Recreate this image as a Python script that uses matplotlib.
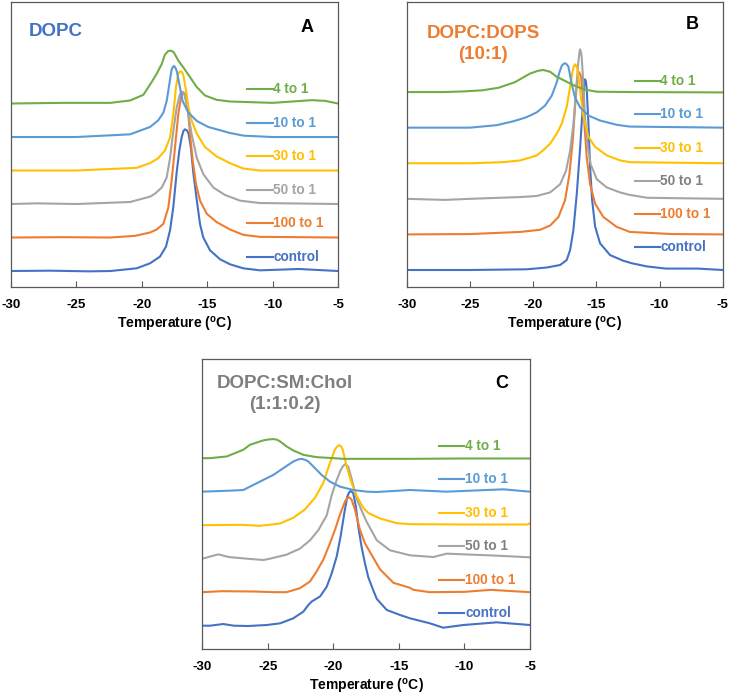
import numpy as np
import matplotlib
matplotlib.use("Agg")
import matplotlib.pyplot as plt

plt.rcParams['font.family'] = ['Liberation Sans', 'DejaVu Sans']
plt.rcParams['font.weight'] = 'bold'
plt.rcParams['mathtext.fontset'] = 'custom'
plt.rcParams['mathtext.rm'] = 'Liberation Sans:bold'
plt.rcParams['mathtext.bf'] = 'Liberation Sans:bold'

# series order: bottom to top
labels = ["control", "100 to 1", "50 to 1", "30 to 1", "10 to 1", "4 to 1"]
colors = ["#4472C4", "#ED7D31", "#A5A5A5", "#FFC000", "#5B9BD5", "#70AD47"]
xticks = [-30, -25, -20, -15, -10, -5]

# (temperature, height above own baseline)
# panel A: DOPC
a_control = [(-30, 0), (-27, 0.01), (-24, -0.01), (-22.4, 0), (-20.4, 0.08), (-19.37, 0.23), (-18.61, 0.43),
             (-18.15, 0.73), (-17.84, 1.22), (-17.59, 1.92), (-17.34, 2.93), (-17.13, 3.6), (-16.95, 4.0),
             (-16.82, 4.18), (-16.7, 4.23), (-16.56, 4.2), (-16.44, 4.12), (-16.26, 3.71), (-16.06, 2.92),
             (-15.8, 2.12), (-15.55, 1.4), (-15.3, 1.0), (-14.79, 0.62), (-14.02, 0.35), (-13.26, 0.2),
             (-12.24, 0.08), (-10.96, 0.02), (-8, 0.06), (-5, 0)]
a_100 = [(-30, 0), (-26, 0.01), (-22.4, 0), (-20.5, 0.05), (-19.37, 0.15), (-18.86, 0.24), (-18.35, 0.41),
         (-17.97, 0.9), (-17.72, 1.7), (-17.46, 2.7), (-17.21, 3.69), (-17.0, 4.19), (-16.9, 4.3),
         (-16.83, 4.34), (-16.75, 4.31), (-16.65, 4.24), (-16.49, 3.89), (-16.32, 3.1), (-16.11, 2.3),
         (-15.86, 1.6), (-15.55, 1.1), (-15.04, 0.71), (-14.28, 0.46), (-13.26, 0.24), (-12.24, 0.08),
         (-11, 0.02), (-5, 0)]
a_50 = [(-30, 0), (-28, 0.02), (-25, 0), (-20.9, 0.06), (-19.37, 0.22), (-18.99, 0.31), (-18.48, 0.49),
        (-18.1, 0.79), (-17.84, 1.38), (-17.59, 2.18), (-17.34, 2.87), (-17.13, 3.22), (-17.03, 3.31),
        (-16.95, 3.35), (-16.85, 3.33), (-16.75, 3.27), (-16.52, 2.87), (-16.19, 2.08), (-15.8, 1.38),
        (-15.3, 0.89), (-14.53, 0.49), (-13.64, 0.27), (-12.49, 0.1), (-11, 0.03), (-5, 0)]
a_30 = [(-30, 0), (-25, 0), (-20.39, 0.08), (-19.37, 0.22), (-18.74, 0.37), (-18.23, 0.6), (-17.84, 0.99),
        (-17.59, 1.69), (-17.39, 2.49), (-17.21, 2.89), (-17.1, 2.95), (-17.03, 2.96), (-16.93, 2.94),
        (-16.83, 2.85), (-16.62, 2.39), (-16.44, 1.89), (-16.19, 1.49), (-15.8, 1.1), (-15.17, 0.7),
        (-14.28, 0.42), (-13.26, 0.22), (-12.24, 0.06), (-11, 0), (-5, 0)]
a_10 = [(-30, 0), (-25, 0), (-20.9, 0.08), (-19.37, 0.3), (-18.74, 0.5), (-18.35, 0.73), (-18.1, 1.07),
        (-17.9, 1.57), (-17.72, 2.02), (-17.62, 2.1), (-17.54, 2.12), (-17.45, 2.08), (-17.33, 1.97),
        (-17.13, 1.57), (-16.88, 1.07), (-16.44, 0.73), (-15.8, 0.48), (-14.92, 0.3), (-13.26, 0.12),
        (-12.2, 0.04), (-10, 0), (-5, 0)]
a_4 = [(-30, 0), (-26, 0.02), (-22.4, 0.02), (-20.9, 0.09), (-19.88, 0.26), (-19.25, 0.64), (-18.86, 0.89),
       (-18.48, 1.18), (-18.23, 1.46), (-18.0, 1.56), (-17.84, 1.58), (-17.68, 1.56), (-17.54, 1.52),
       (-17.21, 1.28), (-16.83, 1.08), (-16.32, 0.79), (-15.8, 0.49), (-15.17, 0.24), (-14.28, 0.11),
       (-13.26, 0.06), (-10, 0.02), (-7, 0.1), (-6, 0.08), (-5, 0)]

# panel B: DOPC:DOPS (10:1)
b_control = [(-30, 0), (-25, 0), (-20.5, 0.02), (-18.93, 0.07), (-17.87, 0.14), (-17.35, 0.28), (-17.08, 0.56),
             (-16.82, 1.12), (-16.55, 2.15), (-16.3, 3.37), (-16.08, 4.59), (-15.97, 5.2), (-15.9, 5.36),
             (-15.83, 5.3), (-15.77, 5.1), (-15.63, 4.12), (-15.5, 2.9), (-15.34, 1.97), (-15.1, 1.22),
             (-14.71, 0.75), (-13.92, 0.42), (-12.87, 0.26), (-12.2, 0.19), (-11, 0.1), (-9.5, 0.04),
             (-7, 0.04), (-5, 0)]
b_100 = [(-30, 0), (-25, 0.01), (-21.03, 0.07), (-19.45, 0.13), (-18.66, 0.25), (-18.0, 0.49), (-17.48, 0.96),
         (-17.13, 1.7), (-16.87, 2.64), (-16.69, 3.58), (-16.55, 4.23), (-16.45, 4.5), (-16.37, 4.56),
         (-16.29, 4.5), (-16.21, 4.42), (-16.08, 3.95), (-15.95, 3.11), (-15.77, 2.17), (-15.5, 1.42),
         (-15.1, 0.86), (-14.45, 0.49), (-13.39, 0.21), (-12.35, 0.07), (-9, 0.01), (-5, 0)]
b_50 = [(-30, 0), (-27, -0.03), (-25, 0), (-21.03, 0.05), (-19.72, 0.08), (-18.66, 0.18), (-17.87, 0.41),
        (-17.4, 0.79), (-17.08, 1.35), (-16.82, 2.1), (-16.61, 3.03), (-16.42, 3.88), (-16.34, 4.12),
        (-16.29, 4.2), (-16.22, 4.12), (-16.16, 3.97), (-16.03, 3.22), (-15.9, 2.28), (-15.72, 1.54),
        (-15.45, 0.97), (-14.97, 0.55), (-14.18, 0.32), (-13.13, 0.18), (-12.35, 0.11), (-11, 0.03), (-5, 0)]
b_30 = [(-30, 0), (-25, 0), (-22.35, 0.03), (-21.03, 0.08), (-20.25, 0.16), (-19.72, 0.22), (-19.19, 0.37),
        (-18.66, 0.55), (-18.14, 0.83), (-17.74, 1.11), (-17.35, 1.58), (-17.08, 2.14), (-16.87, 2.61),
        (-16.78, 2.72), (-16.69, 2.78), (-16.6, 2.74), (-16.5, 2.66), (-16.29, 2.05), (-16.03, 1.3),
        (-15.63, 0.74), (-15.1, 0.46), (-14.18, 0.22), (-13.13, 0.08), (-12.35, 0.03), (-5, 0)]
b_10 = [(-30, 0), (-25, 0), (-22.88, 0.07), (-21.56, 0.18), (-20.64, 0.28), (-20.25, 0.34), (-19.72, 0.43),
        (-19.06, 0.62), (-18.53, 0.9), (-18.14, 1.27), (-17.93, 1.55), (-17.74, 1.74), (-17.6, 1.79),
        (-17.48, 1.81), (-17.35, 1.78), (-17.21, 1.71), (-16.95, 1.23), (-16.69, 0.85), (-16.29, 0.57),
        (-15.63, 0.34), (-14.71, 0.2), (-13.39, 0.08), (-12.35, 0.03), (-5, 0)]
b_4 = [(-30, 0), (-27, 0), (-25.4, 0.02), (-24, 0.05), (-22.75, 0.12), (-21.43, 0.28), (-20.25, 0.52),
       (-19.6, 0.6), (-19.19, 0.62), (-18.66, 0.57), (-18.14, 0.43), (-17.35, 0.29), (-16.55, 0.15),
       (-15.77, 0.06), (-14.97, 0.01), (-12, 0), (-5, -0.01)]

# panel C: DOPC:SM:Chol (1:1:0.2)
c_control = [(-30, 0), (-29.4, 0), (-28.4, 0.05), (-27.6, 0), (-26.5, -0.01), (-25.6, 0.01), (-25.09, 0.02),
             (-24.07, 0.07), (-23.06, 0.22), (-22.29, 0.42), (-21.9, 0.62), (-21.66, 0.72), (-21.02, 0.87),
             (-20.51, 1.16), (-20.13, 1.56), (-19.75, 2.06), (-19.45, 2.66), (-19.17, 3.35), (-18.94, 3.85),
             (-18.8, 3.98), (-18.68, 4.02), (-18.58, 3.99), (-18.48, 3.95), (-18.28, 3.55), (-18.1, 2.96),
             (-17.85, 2.36), (-17.59, 1.86), (-17.34, 1.45), (-17.0, 1.1), (-16.69, 0.8), (-15.93, 0.47),
             (-14.92, 0.32), (-14.15, 0.22), (-12.63, 0.07), (-11.62, -0.06), (-10.09, 0.02), (-7.54, 0.1),
             (-5, 0.02)]
c_100 = [(-30, 0), (-28.5, 0.03), (-26, 0.02), (-24.5, 0), (-23.57, 0), (-22.55, 0.12), (-21.78, 0.32),
         (-21.28, 0.62), (-20.77, 0.97), (-20.26, 1.46), (-19.88, 1.86), (-19.5, 2.31), (-19.11, 2.71),
         (-18.95, 2.8), (-18.81, 2.83), (-18.7, 2.8), (-18.61, 2.76), (-18.35, 2.46), (-17.97, 1.86),
         (-17.59, 1.46), (-17.21, 1.2), (-16.44, 0.68), (-15.42, 0.28), (-14.15, 0.13), (-13.9, 0.07),
         (-12.63, 0), (-10, 0.01), (-8, 0.07), (-5, 0)]
c_50 = [(-30, 0), (-28.78, 0.13), (-28, 0.05), (-26.61, 0), (-25.34, -0.04), (-24.84, 0), (-23.57, 0.12),
        (-22.55, 0.3), (-21.78, 0.55), (-21.15, 0.85), (-20.51, 1.29), (-20.13, 1.89), (-19.8, 2.29),
        (-19.45, 2.64), (-19.25, 2.77), (-19.11, 2.82), (-18.98, 2.79), (-18.86, 2.74), (-18.61, 2.39),
        (-18.22, 1.79), (-17.85, 1.44), (-17.46, 1.1), (-16.69, 0.55), (-15.68, 0.25), (-14.15, 0.1),
        (-12.37, 0.05), (-11.36, 0.15), (-10.09, 0.13), (-7.54, 0.09), (-5, 0.04)]
c_30 = [(-30, 0), (-27, 0.01), (-25.6, -0.02), (-24.07, 0.05), (-23.06, 0.22), (-22.17, 0.47), (-21.4, 0.82),
        (-20.77, 1.26), (-20.26, 1.86), (-19.88, 2.26), (-19.7, 2.35), (-19.55, 2.39), (-19.42, 2.35),
        (-19.29, 2.26), (-18.99, 1.76), (-18.61, 1.26), (-18.22, 0.87), (-17.72, 0.52), (-17.33, 0.36),
        (-16.44, 0.2), (-15.17, 0.06), (-14.15, 0.03), (-10, 0.02), (-5.2, 0.02), (-5, 0.06)]
c_10 = [(-30, 0), (-27.88, 0.03), (-26.87, 0.05), (-26.36, 0.15), (-25.35, 0.35), (-24.58, 0.5), (-23.82, 0.7),
        (-23.06, 0.9), (-22.7, 0.96), (-22.42, 0.98), (-22.15, 0.95), (-21.91, 0.9), (-21.4, 0.7),
        (-20.9, 0.5), (-20.26, 0.3), (-19.5, 0.15), (-18.48, 0.05), (-17.46, 0), (-16.69, -0.01),
        (-14.16, 0.05), (-11.36, 0), (-7.03, 0.07), (-5, 0)]
c_4 = [(-30, 0), (-29.41, 0), (-28.14, 0.05), (-26.87, 0.25), (-26.36, 0.4), (-25.35, 0.53), (-24.9, 0.56),
       (-24.58, 0.57), (-24.3, 0.55), (-24.07, 0.5), (-23.57, 0.35), (-23.06, 0.23), (-22.29, 0.1),
       (-21.28, 0.03), (-20, 0), (-19.24, -0.02), (-14.15, -0.02), (-10, -0.01), (-5, -0.01)]

fig = plt.figure(figsize=(7.29, 6.98), dpi=100)

panels = [
    dict(rect=[0.0151, 0.5888, 0.4486, 0.4083], ylim=(-0.478, 8.03), data=[a_control, a_100, a_50, a_30, a_10, a_4],
         title="DOPC", tcol="#4472C4", tpos=(0.055, 0.895), tha="left", letter="A", lpos=(0.905, 0.912),
         legy=0.695, legstep=0.1179, gray_text="#A5A5A5"),
    dict(rect=[0.558, 0.5888, 0.4335, 0.4083], ylim=(-0.478, 7.53), data=[b_control, b_100, b_50, b_30, b_10, b_4],
         title="DOPC:DOPS\n(10:1)", tcol="#ED7D31", tpos=(0.242, 0.852), tha="center", letter="B", lpos=(0.902, 0.92),
         legy=0.723, legstep=0.1168, gray_text="#808080"),
    dict(rect=[0.2775, 0.0698, 0.4495, 0.4159], ylim=(-0.704, 7.96), data=[c_control, c_100, c_50, c_30, c_10, c_4],
         title="DOPC:SM:Chol\n(1:1:0.2)", tcol="#7F7F7F", tpos=(0.252, 0.878), tha="center", letter="C", lpos=(0.914, 0.916),
         legy=0.700, legstep=0.115, gray_text="#808080"),
]

for p in panels:
    ax = fig.add_axes(p["rect"])
    for i, series in enumerate(p["data"]):
        arr = np.array(series, dtype=float)
        ax.plot(arr[:, 0], arr[:, 1] + i, color=colors[i], lw=1.5, solid_joinstyle='round')
    ax.set_xlim(-30, -5)
    ax.set_ylim(*p["ylim"])
    ax.set_xticks(xticks)
    ax.set_xticklabels([str(t) for t in xticks], fontsize=9.6, fontweight='bold')
    ax.set_yticks([])
    ax.tick_params(axis='x', direction='in', length=4, width=0.8, color='#595959', pad=8.5)
    for s in ax.spines.values():
        s.set_color('#595959')
        s.set_linewidth(0.9)
    ax.set_xlabel(r'Temperature ($^{\mathrm{o}}$C)', fontsize=10, fontweight='bold', labelpad=3)

    # stacked labels, top entry is the last series
    for k in range(6):
        idx = 5 - k
        yy = p["legy"] - k * p["legstep"]
        ax.plot([0.722, 0.80], [yy, yy], transform=ax.transAxes, color=colors[idx], lw=1.5)
        tc = p["gray_text"] if idx == 2 else colors[idx]
        ax.text(0.802, yy, labels[idx], transform=ax.transAxes, color=tc, fontsize=9.8,
                fontweight='bold', va='center', ha='left')

    ax.text(p["tpos"][0], p["tpos"][1], p["title"], transform=ax.transAxes, color=p["tcol"],
            fontsize=13.5, fontweight='bold', ha=p["tha"], va='center', multialignment='center', linespacing=1.3)
    ax.text(p["lpos"][0], p["lpos"][1], p["letter"], transform=ax.transAxes, color='black',
            fontsize=13, fontweight='bold', ha='center', va='center')

fig.savefig("out.png", dpi=100)
